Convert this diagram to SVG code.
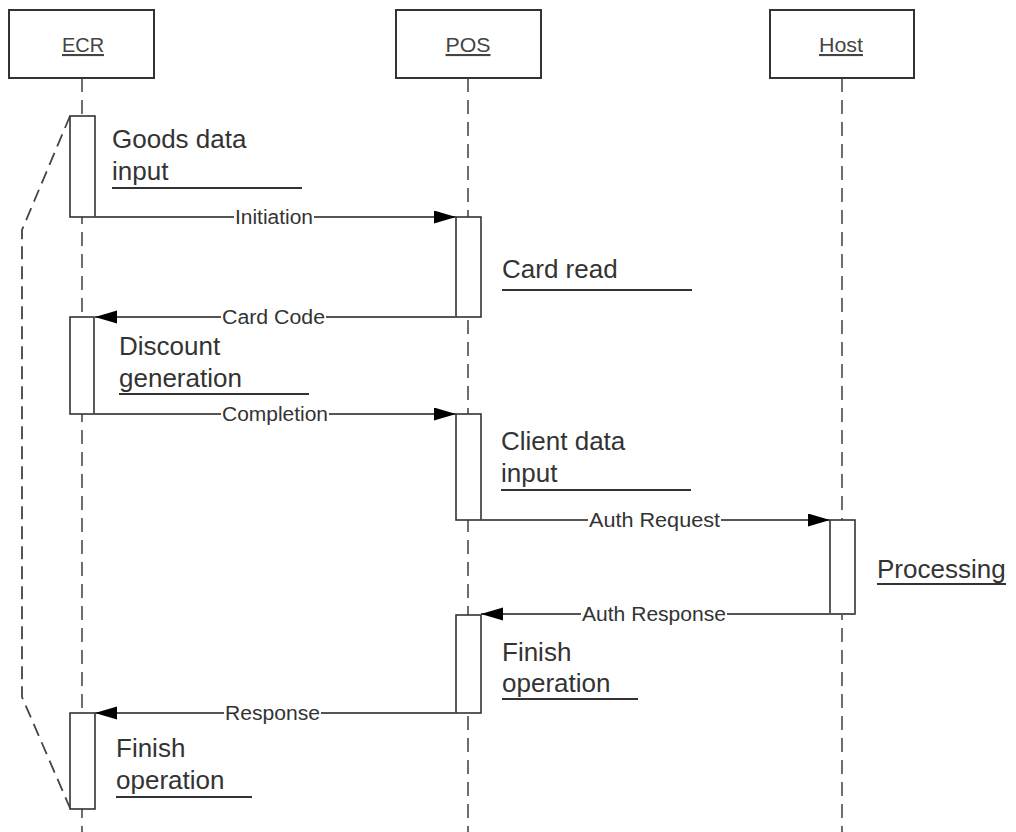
<svg xmlns="http://www.w3.org/2000/svg" width="1016" height="832" viewBox="0 0 1016 832">
<defs>
<style>
.box{fill:#fff;stroke:#333;stroke-width:2}
.life{stroke:#555;stroke-width:1.7;stroke-dasharray:14 8;fill:none}
.act{fill:#fff;stroke:#333;stroke-width:1.6}
.msg{stroke:#555;stroke-width:2;fill:none;marker-end:url(#arr)}
.lbl{font-family:"Liberation Sans",Arial,sans-serif;font-size:20px;fill:#333;text-anchor:middle}
.bg{fill:#fff}
.title{font-family:"Liberation Sans",Arial,sans-serif;font-size:21px;fill:#444;text-anchor:middle;text-decoration:underline}
.note{font-family:"Liberation Sans",Arial,sans-serif;font-size:26px;fill:#333}
.ul{stroke:#333;stroke-width:1.8}
.frame{stroke:#444;stroke-width:1.8;stroke-dasharray:13 7;fill:none}
</style>
<marker id="arr" markerUnits="userSpaceOnUse" markerWidth="23" markerHeight="14" refX="22" refY="6.5" orient="auto">
<path d="M0,0 L22,6.5 L0,13 Z" fill="#000"/>
</marker>
</defs>
<rect width="1016" height="832" fill="#fff"/>

<g id="lifelines">
<line class="life" x1="82" y1="78" x2="82" y2="832"/>
<line class="life" x1="468" y1="78" x2="468" y2="832"/>
<line class="life" x1="842" y1="78" x2="842" y2="832"/>
</g>

<g id="ECR">
<rect class="box" x="9" y="10" width="145" height="68"/>
<text class="title" x="83" y="52" textLength="42" lengthAdjust="spacingAndGlyphs">ECR</text>
</g>
<g id="POS">
<rect class="box" x="396" y="10" width="145" height="68"/>
<text class="title" x="468" y="52" textLength="45" lengthAdjust="spacingAndGlyphs">POS</text>
</g>
<g id="Host">
<rect class="box" x="770" y="10" width="144" height="68"/>
<text class="title" x="841" y="52" textLength="44" lengthAdjust="spacingAndGlyphs">Host</text>
</g>

<g id="frame">
<polyline class="frame" points="70,116 22,230 22,697 70,808"/>
</g>

<g id="activations">
<rect class="act" x="70" y="116" width="25" height="101"/>
<rect class="act" x="70" y="317" width="24" height="97"/>
<rect class="act" x="70" y="713" width="25" height="96"/>
<rect class="act" x="456" y="217" width="25" height="100"/>
<rect class="act" x="456" y="414" width="25" height="106"/>
<rect class="act" x="456" y="615" width="25" height="98"/>
<rect class="act" x="830" y="520" width="25" height="94"/>
</g>

<g id="connectors">
<line class="msg" x1="95" y1="217" x2="456" y2="217"/>
<rect class="bg" x="234" y="207" width="80" height="20"/>
<text class="lbl" x="274" y="224" textLength="78" lengthAdjust="spacingAndGlyphs">Initiation</text>

<line class="msg" x1="456" y1="317" x2="95" y2="317"/>
<rect class="bg" x="221" y="307" width="105" height="20"/>
<text class="lbl" x="273.5" y="324" textLength="103" lengthAdjust="spacingAndGlyphs">Card Code</text>

<line class="msg" x1="94" y1="414" x2="456" y2="414"/>
<rect class="bg" x="221" y="404" width="108" height="20"/>
<text class="lbl" x="275" y="421" textLength="106" lengthAdjust="spacingAndGlyphs">Completion</text>

<line class="msg" x1="481" y1="520" x2="830" y2="520"/>
<rect class="bg" x="588" y="510" width="133" height="20"/>
<text class="lbl" x="654.5" y="527" textLength="131" lengthAdjust="spacingAndGlyphs">Auth Request</text>

<line class="msg" x1="855" y1="614" x2="481" y2="614"/>
<rect class="bg" x="581" y="604" width="146" height="20"/>
<text class="lbl" x="654" y="621" textLength="144" lengthAdjust="spacingAndGlyphs">Auth Response</text>

<line class="msg" x1="456" y1="713" x2="95" y2="713"/>
<rect class="bg" x="224" y="703" width="97" height="20"/>
<text class="lbl" x="272.5" y="720" textLength="95" lengthAdjust="spacingAndGlyphs">Response</text>
</g>

<g id="note-goods">
<text class="note" x="112" y="148">Goods data</text>
<text class="note" x="112" y="180">input</text>
<line class="ul" x1="112" y1="188" x2="302" y2="188"/>
</g>
<g id="note-cardread">
<text class="note" x="502" y="278">Card read</text>
<line class="ul" x1="502" y1="290" x2="692" y2="290"/>
</g>
<g id="note-discount">
<text class="note" x="119" y="355">Discount</text>
<text class="note" x="119" y="387">generation</text>
<line class="ul" x1="119" y1="394" x2="309" y2="394"/>
</g>
<g id="note-client">
<text class="note" x="501" y="450">Client data</text>
<text class="note" x="501" y="482">input</text>
<line class="ul" x1="501" y1="490" x2="691" y2="490"/>
</g>
<g id="note-processing">
<text class="note" x="877" y="578">Processing</text>
<line class="ul" x1="877" y1="584" x2="1006" y2="584"/>
</g>
<g id="note-finish-pos">
<text class="note" x="502" y="661">Finish</text>
<text class="note" x="502" y="692">operation</text>
<line class="ul" x1="502" y1="699" x2="638" y2="699"/>
</g>
<g id="note-finish-ecr">
<text class="note" x="116" y="757">Finish</text>
<text class="note" x="116" y="789">operation</text>
<line class="ul" x1="116" y1="797" x2="252" y2="797"/>
</g>
</svg>
